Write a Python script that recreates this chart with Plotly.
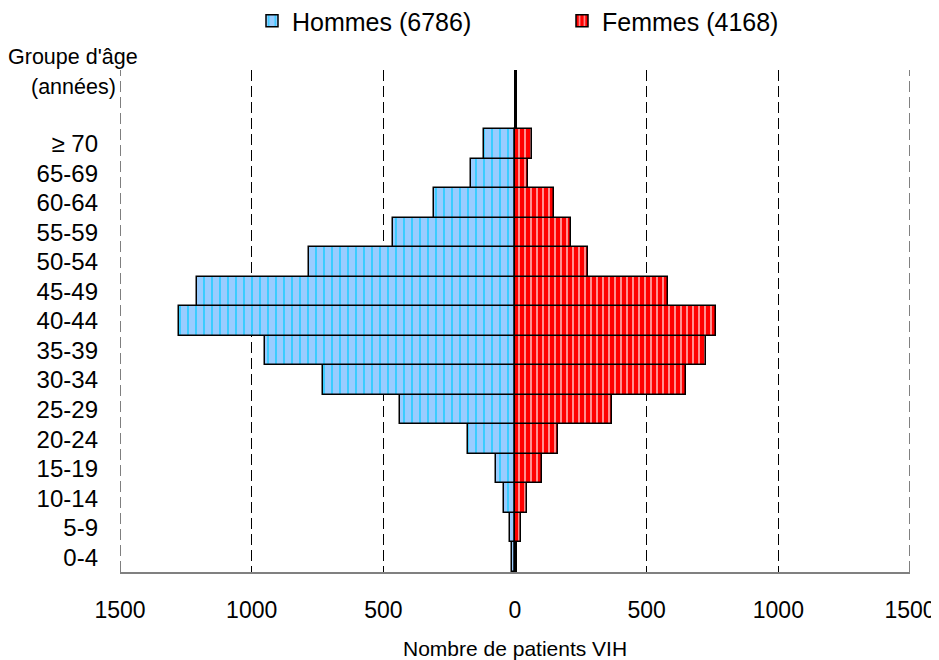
import plotly.graph_objects as go

# Data (bottom to top)
age_groups = ["0-4", "5-9", "10-14", "15-19", "20-24", "25-29", "30-34", "35-39",
              "40-44", "45-49", "50-54", "55-59", "60-64", "65-69", "≥ 70"]
hommes = [11, 19, 42, 72, 178, 436, 730, 951, 1277, 1208, 783, 465, 306, 169, 117]
femmes = [4, 22, 45, 104, 165, 369, 650, 726, 764, 581, 278, 211, 149, 49, 65]
hommes_label = "Hommes (6786)"
femmes_label = "Femmes (4168)"
x_title = "Nombre de patients VIH"
y_title_lines = ["Groupe d'âge", "(années)"]
x_tickvals = [-1500, -1000, -500, 0, 500, 1000, 1500]
x_ticktext = ["1500", "1000", "500", "0", "500", "1000", "1500"]

# The page body has an 8px margin, so the figure is drawn smaller and offset
OFF = 8
W, H = 939 - OFF, 660 - OFF
L, T = 120 - OFF, 70.4 - OFF
R = W - (910 - OFF)
B = H - (571.7 - OFF)
pw, ph = W - L - R, H - T - B

FONT = "Liberation Sans, Arial, sans-serif"
GRID_DASH = "11px,5px"

ypos = list(range(len(age_groups)))

fig = go.Figure()
fig.add_trace(go.Bar(
    y=ypos, x=[-v for v in hommes], orientation="h", name=hommes_label,
    width=1, base=0,
    marker=dict(color="#99CCFF", line=dict(color="black", width=1.5),
                pattern=dict(shape="|", fgcolor="#22CCFF", bgcolor="#99CCFF",
                             size=8, solidity=0.2, fillmode="replace")),
))
fig.add_trace(go.Bar(
    y=ypos, x=femmes, orientation="h", name=femmes_label,
    width=1, base=0,
    marker=dict(color="#FF0000", line=dict(color="black", width=1.5),
                pattern=dict(shape="|", fgcolor="#FF9090", bgcolor="#FF0000",
                             size=6, solidity=0.33, fillmode="replace")),
))

# dashed gridlines at the outer tick values (plotly omits them at range ends)
for xv in (x_tickvals[0], x_tickvals[-1]):
    fig.add_shape(type="line", xref="x", yref="paper", x0=xv, x1=xv, y0=0, y1=1,
                  line=dict(color="black", width=1, dash=GRID_DASH), layer="below")

fig.update_layout(
    width=W, height=H,
    margin=dict(l=L, r=R, t=T, b=B, pad=0, autoexpand=False),
    paper_bgcolor="white", plot_bgcolor="white",
    barmode="overlay", bargap=0,
    font=dict(family=FONT, color="black", size=23),
    showlegend=True,
    legend=dict(orientation="h", xref="container", yref="container",
                x=244 / W, y=1 - 13 / H, xanchor="left", yanchor="middle",
                font=dict(size=25, family=FONT), entrywidth=265,
                itemwidth=30, bgcolor="rgba(0,0,0,0)", traceorder="normal"),
    xaxis=dict(range=[-1500, 1500], tickvals=x_tickvals, ticktext=x_ticktext,
               showgrid=True, gridcolor="black", gridwidth=1, griddash=GRID_DASH,
               zeroline=True, zerolinecolor="black", zerolinewidth=3,
               showline=True, linecolor="#808080", linewidth=2,
               ticks="", ticklabelstandoff=16, automargin=False,
               tickfont=dict(size=23, family=FONT)),
    yaxis=dict(range=[-0.5, 16.5], tickvals=ypos, ticktext=age_groups,
               showgrid=False, zeroline=False, showline=False,
               ticks="", ticklabelstandoff=21, automargin=False,
               tickfont=dict(size=24, family=FONT)),
)

def ref_to_paper_x(px):
    return (px - OFF - L) / pw

def ref_to_paper_y(py):
    return 1 - (py - OFF - T) / ph

fig.add_annotation(text=x_title, xref="paper", yref="paper",
                   x=0.5, y=ref_to_paper_y(648), showarrow=False,
                   xanchor="center", yanchor="middle", font=dict(size=21, family=FONT))
fig.add_annotation(text=y_title_lines[0], xref="paper", yref="paper",
                   x=ref_to_paper_x(73), y=ref_to_paper_y(57), showarrow=False,
                   xanchor="center", yanchor="middle", font=dict(size=21.5, family=FONT))
fig.add_annotation(text=y_title_lines[1], xref="paper", yref="paper",
                   x=ref_to_paper_x(73), y=ref_to_paper_y(87), showarrow=False,
                   xanchor="center", yanchor="middle", font=dict(size=21.5, family=FONT))

fig.write_html("out.html")
